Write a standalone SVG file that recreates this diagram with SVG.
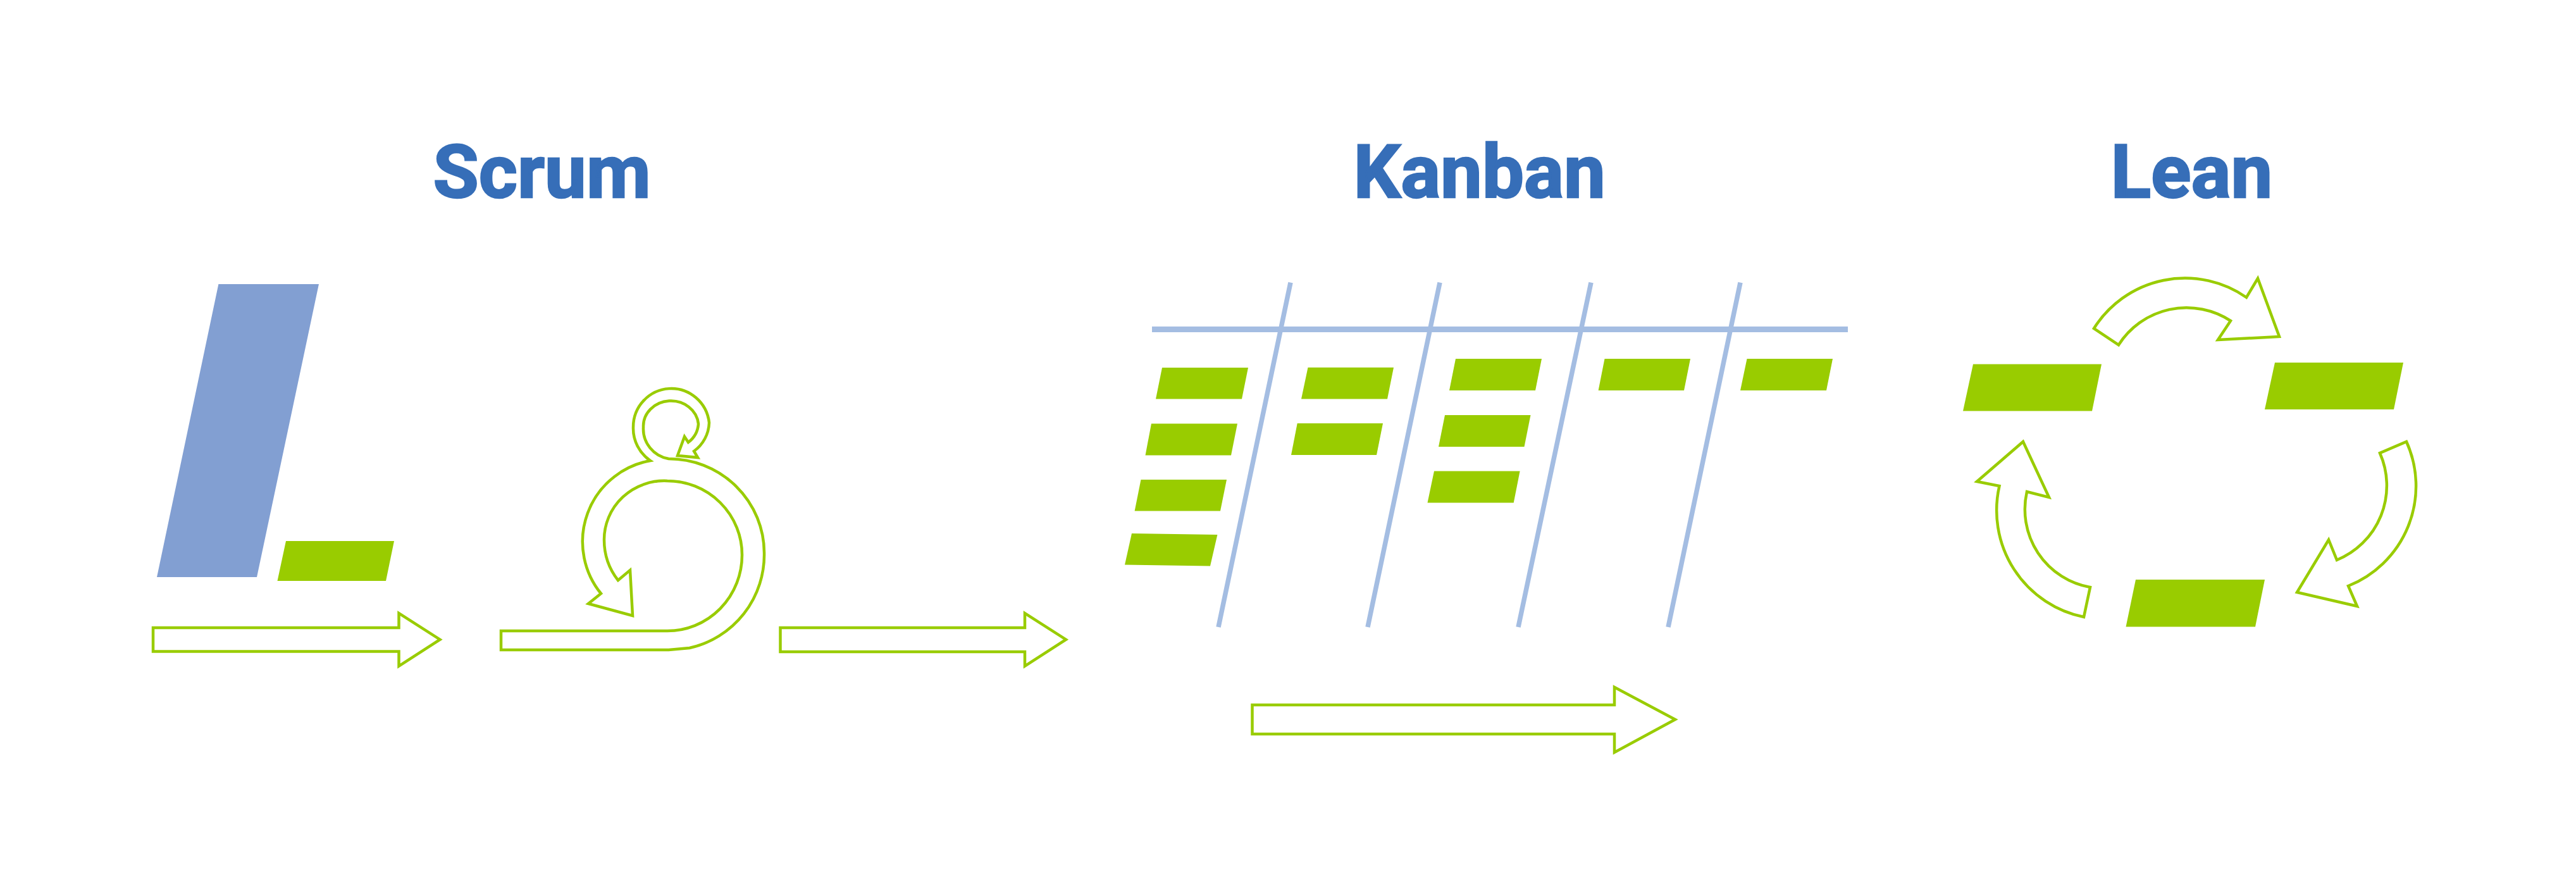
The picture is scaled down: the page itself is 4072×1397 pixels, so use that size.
<svg xmlns="http://www.w3.org/2000/svg" width="4072" height="1397" viewBox="0 0 4072 1397">
<style>
.t{font-family:Roboto,"Liberation Sans",sans-serif;font-weight:700;font-size:117.5px;fill:#366eb8;stroke:#366eb8;stroke-width:2.5}
.c{fill:#99cc00}
.o{fill:#fff;stroke:#99cc00;stroke-width:4.5;stroke-linejoin:miter}
.l{stroke:#a4bde2;fill:none}
</style>
<rect width="4072" height="1397" fill="#fff"/>
<g id="title-scrum"><text class="t" x="684.5" y="311.5">Scrum</text></g>
<g id="title-kanban"><text class="t" x="2139.5" y="311.5">Kanban</text></g>
<g id="title-lean"><text class="t" x="3336.5" y="311.5">Lean</text></g>
<g id="scrum-backlog"><polygon points="345.4,449 504,449 406,912 248,912" fill="#829fd2"/></g>
<g id="scrum-item"><polygon class="c" points="452,855 623,855 610,918 438.5,918"/></g>
<g id="kanban-board">
<path class="l" stroke-width="9" d="M1821 520.5H2921"/>
<path class="l" stroke-width="7.5" d="M2040 446.5L1926 991M2276 446.5L2162 991M2515 446.5L2400 991M2751 446.5L2637 991"/>
</g>
<g id="kanban-cards">
<polygon class="c" points="1837,581 1973,581 1963,630.5 1827,630.5"/>
<polygon class="c" points="1820,669.5 1956,669.5 1946,719.5 1810.5,719.5"/>
<polygon class="c" points="1803.5,758 1939,758 1929,807.5 1793.6,807.5"/>
<polygon class="c" points="1789,843 1924.4,845 1913,894.5 1778,892.5"/>
<polygon class="c" points="2067.5,580.7 2203,580.7 2193,630.5 2057,630.5"/>
<polygon class="c" points="2050.7,669 2186,669 2176,719 2041,719"/>
<polygon class="c" points="2301,567 2437,567 2427,617 2291,617"/>
<polygon class="c" points="2284,656 2419.5,656 2409.5,706 2274,706"/>
<polygon class="c" points="2267,744.5 2402.6,744.5 2392.7,794.5 2256.5,794.5"/>
<polygon class="c" points="2536.5,567 2672,567 2662,617 2526.6,617"/>
<polygon class="c" points="2761.5,567 2897,567 2887,617 2751,617"/>
</g>
<g id="lean-cards">
<polygon class="c" points="3119,575.5 3322,575.5 3307,649.4 3103,649.4"/>
<polygon class="c" points="3596,573 3799,573 3784,647 3580,647"/>
<polygon class="c" points="3376,916 3580,916 3565,990.5 3360.5,990.5"/>
</g>
<g id="connectors">
<polygon class="o" points="242,992 630.5,992 630.5,969 695.5,1010.7 630.5,1052.6 630.5,1029.6 242,1029.6"/>
<polygon class="o" points="1233.5,992 1620,992 1620,969 1685,1010.7 1620,1052.6 1620,1030 1233.5,1030"/>
<polygon class="o" points="1979.5,1114 2552,1114 2552,1086 2648,1137 2552,1189 2552,1160 1979.5,1160"/>
<path class="o" d="M792 997H1055A118 120 0 0 0 1173 877A118 117 0 0 0 1055 760A95 93 0 0 0 955 853A95 100 0 0 0 977 917L996 901L1000 973L930 954L950 938A130 130 0 0 1 1028 728A62 62 0 0 1 1001 675A60.2 61 0 0 1 1121 668A58 58 0 0 1 1097 713L1103 723L1071 720L1082 690L1088 699A40 40 0 0 0 1104 670A43.6 40 0 0 0 1017 675A48 48 0 0 0 1057 725A151 149 0 0 1 1208 873A151 151 0 0 1 1090 1024L1057 1027H792Z"/>
<path class="o" d="M3310 519A170 170 0 0 1 3551 470L3569 440L3603 532L3506 537L3526 507A128 128 0 0 0 3349 545Z"/>
<path class="o" d="M3804 698A170 170 0 0 1 3712 926L3726 958L3631 936L3681 853L3694 885A127 127 0 0 0 3762 716Z"/>
<path class="o" d="M3198 698L3239 786L3204 777A125 125 0 0 0 3304 928L3294 975A172 172 0 0 1 3160.5 768L3125 761Z"/>
</g>
</svg>
